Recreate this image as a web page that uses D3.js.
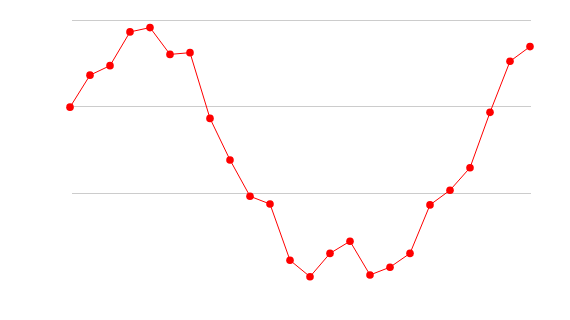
<!DOCTYPE html>
<html lang="en">
  <head>
    <meta charset="UTF-8" />
    <title>Line chart</title>
    <script src="https://d3js.org/d3.v7.min.js"></script>
    <style>
      body {
        margin: 0;
        background: #fff;
        font-family: sans-serif;
      }
      .gridlines line {
        stroke: #ccc;
        shape-rendering: crispEdges;
      }
      .gridlines .domain {
        stroke: none;
      }
    </style>
  </head>
  <body>
    <svg width="570" height="320" id="chart"></svg>

    <script>
      // values, one per point
      const values = [
        -0.01, 0.36, 0.47, 0.86, 0.91, 0.6, 0.62, -0.14, -0.62, -1.04, -1.13,
        -1.78, -1.97, -1.7, -1.56, -1.95, -1.86, -1.7, -1.14, -0.97, -0.71,
        -0.07, 0.52, 0.69,
      ];
      const gridValues = [-1, 0, 1];

      const svg = d3.select("#chart");

      // x scale (point index)
      const xScale = d3
        .scaleLinear()
        .domain([0, values.length - 1])
        .range([70, 530]);

      // y scale
      const yScale = d3.scaleLinear().domain([-2, 1]).range([279.3, 19.8]);

      // horizontal gridlines, no labels
      const yGridlines = d3
        .axisLeft(yScale)
        .tickValues(gridValues)
        .tickSize(-459)
        .tickFormat("");
      svg
        .append("g")
        .attr("class", "gridlines")
        .attr("transform", "translate(72,0)")
        .call(yGridlines);

      const lineGen = d3
        .line()
        .x((d, i) => xScale(i))
        .y((d) => yScale(d));

      svg
        .append("path")
        .datum(values)
        .attr("fill", "none")
        .attr("stroke", "#ff0000")
        .attr("stroke-width", 1)
        .attr("d", lineGen);

      svg
        .selectAll(".dot")
        .data(values)
        .join("circle")
        .attr("class", "dot")
        .attr("cx", (d, i) => xScale(i))
        .attr("cy", (d) => yScale(d))
        .attr("r", 3.8)
        .attr("fill", "#ff0000");
    </script>
  </body>
</html>
